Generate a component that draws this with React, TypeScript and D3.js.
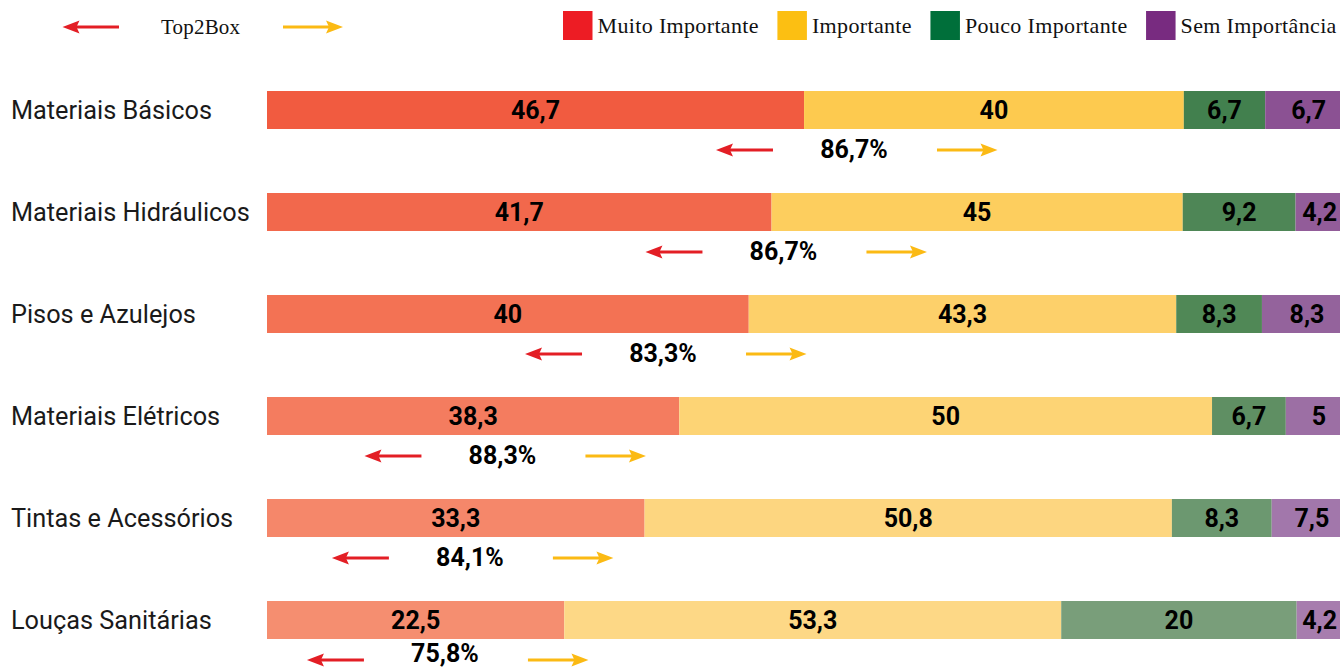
import React, { useEffect, useRef } from 'react';
import * as d3 from 'd3';

const categories = [
  'Materiais Básicos',
  'Materiais Hidráulicos',
  'Pisos e Azulejos',
  'Materiais Elétricos',
  'Tintas e Acessórios',
  'Louças Sanitárias',
];
const levels = ['Muito Importante', 'Importante', 'Pouco Importante', 'Sem Importância'];

// printed values (%)
const muitoImportante = [46.7, 41.7, 40, 38.3, 33.3, 22.5];
const importante = [40, 45, 43.3, 50, 50.8, 53.3];
const poucoImportante = [6.7, 9.2, 8.3, 6.7, 8.3, 20];
const semImportancia = [6.7, 4.2, 8.3, 5, 7.5, 4.2];
const top2Box = [86.7, 86.7, 83.3, 88.3, 84.1, 75.8];

// segment lengths as drawn in the original infographic (not strictly proportional)
const muitoDrawn = [49.5, 46.5, 44.4, 38.0, 34.8, 27.4];
const importanteDrawn = [35.0, 37.9, 39.4, 49.1, 48.6, 45.8];
const poucoDrawn = [7.5, 10.4, 7.9, 6.8, 9.2, 21.7];
const semDrawn = [8.0, 5.2, 8.3, 6.1, 7.4, 5.1];
// where the Top2Box callout sits along the bar (same units)
const top2Anchor = [54.1, 47.6, 36.5, 21.7, 18.7, 16.4];

const legendColors = ['#ED1C24', '#FCBF12', '#006F3A', '#782B80'];
const rowColors = [
  ['#F15B40', '#F2684C', '#F37254', '#F47C5F', '#F5876A', '#F58E70'],
  ['#FDCA4F', '#FDCE5E', '#FDD06A', '#FDD475', '#FDD680', '#FDD886'],
  ['#42804E', '#4E8656', '#508856', '#5F8F63', '#6C9870', '#799E7A'],
  ['#8B5193', '#925C99', '#94639C', '#9C6FA4', '#A277AB', '#A77DAE'],
];
const arrowRed = '#E31E25';
const arrowYellow = '#FBBA14';

const W = 1340;
const H = 668;
const numFont = 'Roboto, "DejaVu Sans", sans-serif';
const serif = '"Liberation Serif", "DejaVu Serif", serif';

const fmt = (v: number) => String(v).replace('.', ',');

function arrow(g: any, x1: number, x2: number, y: number, color: string) {
  // x2 is the tip
  const dir = x2 > x1 ? 1 : -1;
  const head = 17;
  g.append('line')
    .attr('x1', x1)
    .attr('x2', x2 - dir * 12)
    .attr('y1', y)
    .attr('y2', y)
    .attr('stroke', color)
    .attr('stroke-width', 3);
  const p = d3.path();
  p.moveTo(x2, y);
  p.lineTo(x2 - dir * head, y - 6.5);
  p.lineTo(x2 - dir * (head - 3), y);
  p.lineTo(x2 - dir * head, y + 6.5);
  p.closePath();
  g.append('path').attr('d', p.toString()).attr('fill', color);
}

export default function App() {
  const ref = useRef<SVGSVGElement>(null);

  useEffect(() => {
    const svg = d3.select(ref.current);
    svg.selectAll('*').remove();

    const keys = ['muito', 'importante', 'pouco', 'sem'];
    const table = categories.map((c, i) => ({
      cat: c,
      i,
      muito: muitoDrawn[i],
      importante: importanteDrawn[i],
      pouco: poucoDrawn[i],
      sem: semDrawn[i],
    }));
    const printed = [muitoImportante, importante, poucoImportante, semImportancia];

    const x = d3.scaleLinear().domain([0, 100]).range([267, 1352]);
    const y = d3
      .scaleBand()
      .domain(categories)
      .range([91, 639])
      .paddingInner(64 / 102)
      .paddingOuter(0);
    const bh = y.bandwidth();

    const stacked = d3.stack<any>().keys(keys)(table);

    // bars
    stacked.forEach((layer, k) => {
      const g = svg.append('g');
      g.selectAll('rect')
        .data(layer)
        .enter()
        .append('rect')
        .attr('x', (d: any) => x(d[0]))
        .attr('y', (d: any) => y(d.data.cat))
        .attr('width', (d: any) => x(d[1]) - x(d[0]))
        .attr('height', bh)
        .attr('fill', (d: any) => rowColors[k][d.data.i]);

      g.selectAll('text')
        .data(layer)
        .enter()
        .append('text')
        .attr('x', (d: any) => (x(d[0]) + x(d[1])) / 2)
        .attr('y', (d: any) => y(d.data.cat)! + bh / 2 + 9)
        .attr('text-anchor', 'middle')
        .attr('font-family', numFont)
        .attr('font-weight', 700)
        .attr('font-size', 25)
        .attr('fill', '#000')
        .text((d: any) => fmt(printed[k][d.data.i]))
        .each(function (this: SVGTextElement) {
          // keep labels of the clipped last segment inside the picture
          const tw = this.getComputedTextLength();
          const cx = +this.getAttribute('x')!;
          if (cx + tw / 2 > W - 3) d3.select(this).attr('x', W - 3 - tw / 2);
        });
    });

    // category labels
    svg
      .append('g')
      .selectAll('text')
      .data(categories)
      .enter()
      .append('text')
      .attr('x', 11)
      .attr('y', (d) => y(d)! + bh / 2 + 9)
      .attr('font-family', numFont)
      .attr('font-size', 25.3)
      .attr('fill', '#1a1a1a')
      .text((d) => d);

    // Top2Box callouts
    const cg = svg.append('g');
    categories.forEach((c, i) => {
      const cx = x(top2Anchor[i]);
      const bottom = y(c)! + bh;
      cg.append('text')
        .attr('x', cx)
        .attr('y', Math.min(bottom + 29, H - 6))
        .attr('text-anchor', 'middle')
        .attr('font-family', numFont)
        .attr('font-weight', 700)
        .attr('font-size', 25)
        .attr('fill', '#000')
        .text(fmt(top2Box[i]) + '%');
      arrow(cg, cx - 81, cx - 138, bottom + 21, arrowRed);
      arrow(cg, cx + 83, cx + 143.5, bottom + 21, arrowYellow);
    });

    // top-left legend
    const tl = svg.append('g');
    arrow(tl, 119, 62.5, 27, arrowRed);
    arrow(tl, 283, 343, 27, arrowYellow);
    tl.append('text')
      .attr('x', 161)
      .attr('y', 34)
      .attr('font-family', serif)
      .attr('font-size', 21)
      .attr('letter-spacing', 0.2)
      .attr('fill', '#111')
      .text('Top2Box');

    // colour legend
    const lg = svg.append('g');
    let lx = 563;
    levels.forEach((lvl, k) => {
      lg.append('rect')
        .attr('x', lx)
        .attr('y', 11)
        .attr('width', 29.5)
        .attr('height', 29)
        .attr('fill', legendColors[k]);
      const t = lg
        .append('text')
        .attr('x', lx + 34.5)
        .attr('y', 33)
        .attr('font-family', serif)
        .attr('font-size', 22)
        .attr('letter-spacing', 0.35)
        .attr('fill', '#111')
        .text(lvl);
      const tw = (t.node() as SVGTextElement).getComputedTextLength();
      lx = lx + 34.5 + tw + 18.5;
    });
  }, []);

  return (
    <svg
      ref={ref}
      width={W}
      height={H}
      style={{ position: 'absolute', left: 0, top: 0, display: 'block', background: '#fff' }}
    />
  );
}
